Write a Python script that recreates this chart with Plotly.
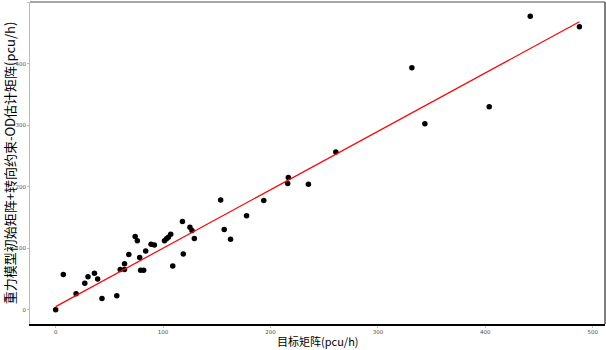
import plotly.graph_objects as go

# Target matrix values (x) and estimated matrix values (y), pcu/h
target = [0, 7.1, 19.0, 27.1, 30.1, 36.1, 39.1, 43.1, 56.9, 60.1, 64.1, 64.1, 68.1,
          74.0, 76.0, 78.2, 79.1, 81.9, 83.8, 88.8, 91.9, 101.3, 103.2, 104.9, 107.1,
          109.0, 118.0, 118.8, 125.0, 126.9, 129.1, 153.6, 156.9, 162.8, 177.7, 193.7,
          216.6, 216.0, 235.3, 260.8, 331.6, 343.7, 403.6, 441.8, 487.6]
estimate = [0, 57.0, 25.7, 43.0, 53.7, 59.3, 50.0, 18.2, 22.8, 65.5, 65.5, 74.8, 89.6,
            118.9, 112.2, 84.7, 64.2, 64.2, 95.3, 106.5, 105.0, 112.2, 115.3, 117.9, 122.8,
            71.2, 143.3, 90.7, 133.9, 128.7, 115.6, 178.2, 130.3, 114.7, 152.6, 177.5,
            214.8, 205.0, 203.9, 256.4, 393.2, 302.4, 330.1, 477.2, 459.9]

# fitted line coefficients
fit_intercept = 5.0
fit_slope = 0.95

x_ticks = [0, 100, 200, 300, 400, 500]
y_ticks = [0, 100, 200, 300, 400, 500]

x_title = "目标矩阵(pcu/h)"
y_title = "重力模型初始矩阵+转向约束-OD估计矩阵(pcu/h)"

fit_x = [min(target), max(target)]
fit_y = [fit_intercept + fit_slope * v for v in fit_x]

fig = go.Figure()
fig.add_trace(go.Scatter(x=target, y=estimate, mode="markers",
                         marker=dict(color="black", size=5.5), showlegend=False))
fig.add_trace(go.Scatter(x=fit_x, y=fit_y, mode="lines",
                         line=dict(color="red", width=1.2), showlegend=False))

cjk = "Noto Sans CJK SC"
tickfont = dict(size=5.5, color="#4d4d4d", family="DejaVu Sans")
plot_h = 350 - 2 - 26
fig.update_layout(
    width=606, height=350,
    margin=dict(l=30, r=1, t=2, b=26),
    plot_bgcolor="white", paper_bgcolor="white",
    font=dict(family=cjk),
    xaxis=dict(range=[-23.9, 511.4], tickvals=x_ticks, ticktext=[str(v) for v in x_ticks],
               showgrid=False, zeroline=False, showline=True, linecolor="black", linewidth=1.5,
               ticks="outside", ticklen=2, tickcolor="#bbbbbb", tickfont=tickfont),
    yaxis=dict(range=[-23.3, 500.3], tickvals=y_ticks, ticktext=[str(v) for v in y_ticks],
               showgrid=False, zeroline=False, showline=True, linecolor="#bbbbbb", linewidth=1,
               ticks="outside", ticklen=2, tickcolor="#bbbbbb", tickfont=tickfont,
               title=dict(text=y_title, font=dict(size=13, color="black", family=cjk), standoff=3)),
    annotations=[
        dict(text=x_title, xref="paper", yref="paper", x=0.5, y=-25.8 / plot_h,
             xanchor="center", yanchor="bottom", showarrow=False, borderpad=0,
             font=dict(size=11, color="black", family=cjk)),
    ],
    shapes=[
        dict(type="line", xref="paper", yref="paper", x0=0, x1=1, y0=1, y1=1,
             line=dict(color="#888888", width=1.5)),
        dict(type="line", xref="paper", yref="paper", x0=1, x1=1, y0=0, y1=1,
             line=dict(color="#555555", width=1.5)),
    ],
)

fig.write_html("out.html")
